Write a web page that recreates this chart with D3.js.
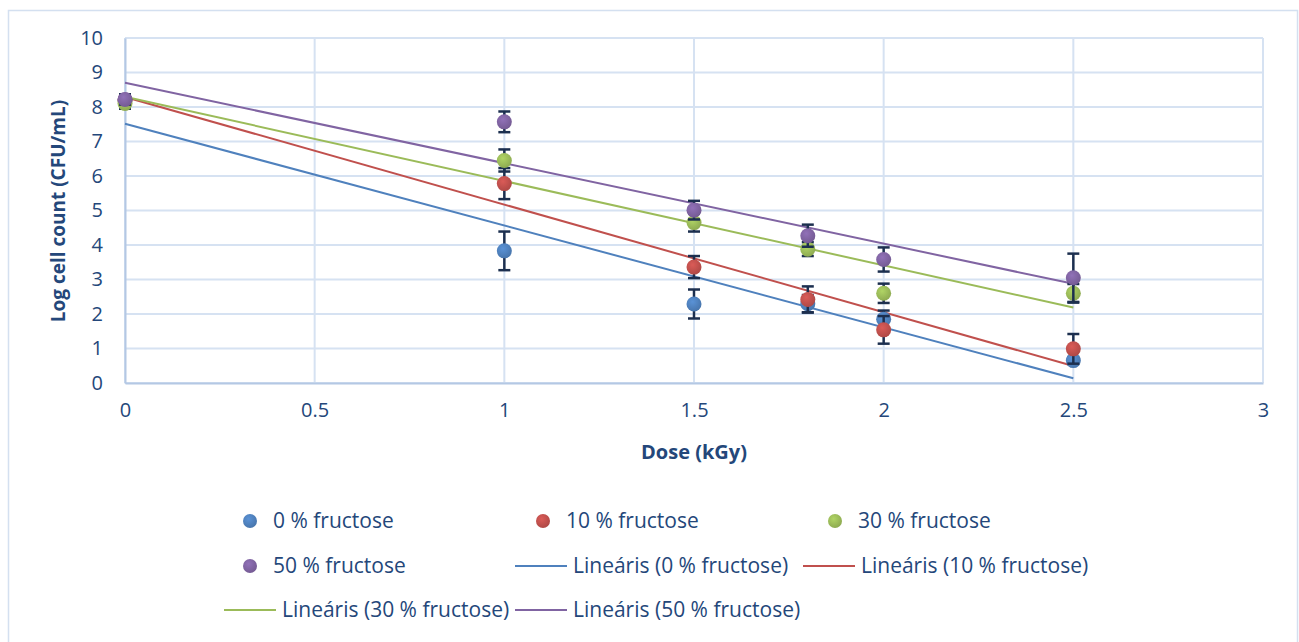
<!DOCTYPE html>
<html>
<head>
<meta charset="utf-8">
<title>Log cell count vs dose</title>
<script src="https://cdn.jsdelivr.net/npm/d3@7"></script>
<style>
  body { margin: 0; background: #fff; }
  svg { display: block; font-family: "Open Sans", sans-serif; }
</style>
</head>
<body>
<script>
// data
var doses = [0, 1, 1.5, 1.8, 2, 2.5];
var seriesNames = ["0 % fructose", "10 % fructose", "30 % fructose", "50 % fructose"];
var fru0 = [8.2, 3.83, 2.29, 2.30, 1.85, 0.65];
var fru10 = [8.2, 5.78, 3.36, 2.42, 1.54, 0.99];
var fru30 = [8.1, 6.45, 4.65, 3.88, 2.60, 2.60];
var fru50 = [8.22, 7.57, 5.01, 4.27, 3.58, 3.05];
var err0 = [0.15, 0.56, 0.42, 0.25, 0.25, 0.1];
var err10 = [0.15, 0.45, 0.32, 0.38, 0.4, 0.43];
var err30 = [0.15, 0.32, 0.26, 0.2, 0.28, 0.27];
var err50 = [0.15, 0.3, 0.27, 0.32, 0.35, 0.7];
var xTicks = [0, 0.5, 1, 1.5, 2, 2.5, 3];
var yTicks = [0, 1, 2, 3, 4, 5, 6, 7, 8, 9, 10];
var colors = ["#4f81bd", "#c0504d", "#9bbb59", "#8064a2"];

var values = [fru0, fru10, fru30, fru50];
var errors = [err0, err10, err30, err50];

var W = 1299, H = 642;
var textColor = "#24477a";
var gridColor = "#d6e2f2";

var svg = d3.select("body").append("svg")
    .attr("width", W)
    .attr("height", H);

// outer chart frame
svg.append("rect")
    .attr("x", 8.5).attr("y", 10.5)
    .attr("width", 1289).attr("height", 660)
    .attr("fill", "none")
    .attr("stroke", "#d4e0f0")
    .attr("stroke-width", 1.5);

var x = d3.scaleLinear().domain([0, 3]).range([125, 1263]);
var y = d3.scaleLinear().domain([0, 10]).range([383, 38]);

// gridlines
svg.append("g").selectAll("line.h")
    .data(yTicks).enter().append("line")
    .attr("x1", x(0)).attr("x2", x(3))
    .attr("y1", function(d) { return y(d); })
    .attr("y2", function(d) { return y(d); })
    .attr("stroke", gridColor).attr("stroke-width", 2);

svg.append("g").selectAll("line.v")
    .data(xTicks).enter().append("line")
    .attr("y1", y(0)).attr("y2", y(10))
    .attr("x1", function(d) { return x(d); })
    .attr("x2", function(d) { return x(d); })
    .attr("stroke", gridColor).attr("stroke-width", 2);

// axes (lines only, labels below)
var xAxis = svg.append("g")
    .attr("transform", "translate(0," + y(0) + ")")
    .call(d3.axisBottom(x).tickValues(xTicks).tickSize(0).tickPadding(20)
        .tickFormat(function(d) { return d; }));
var yAxis = svg.append("g")
    .attr("transform", "translate(" + x(0) + ",0)")
    .call(d3.axisLeft(y).tickValues(yTicks).tickSize(0).tickPadding(22));

[xAxis, yAxis].forEach(function(a) {
    a.select(".domain").attr("stroke", "#b4c8e4").attr("stroke-width", 2);
    a.selectAll("text")
        .attr("fill", textColor)
        .style("font-size", "20px")
        .style("font-family", "'Open Sans', sans-serif");
});

// axis titles
svg.append("text")
    .attr("x", 694).attr("y", 459)
    .attr("text-anchor", "middle")
    .attr("fill", textColor)
    .style("font-size", "20px").style("font-weight", "bold")
    .text("Dose (kGy)");

svg.append("text")
    .attr("transform", "translate(65,211) rotate(-90)")
    .attr("text-anchor", "middle")
    .attr("fill", textColor)
    .style("font-size", "19px").style("font-weight", "bold")
    .text("Log cell count (CFU/mL)");

// linear trend lines (least squares, like the spreadsheet)
function fit(ys) {
    var mx = d3.mean(doses), my = d3.mean(ys);
    var sxy = d3.sum(doses, function(d, i) { return (d - mx) * (ys[i] - my); });
    var sxx = d3.sum(doses, function(d) { return (d - mx) * (d - mx); });
    var b = sxy / sxx;
    return { a: my - b * mx, b: b };
}

var trendG = svg.append("g");
values.forEach(function(ys, k) {
    var f = fit(ys);
    var x0 = d3.min(doses), x1 = d3.max(doses);
    trendG.append("line")
        .attr("x1", x(x0)).attr("y1", y(f.a + f.b * x0))
        .attr("x2", x(x1)).attr("y2", y(f.a + f.b * x1))
        .attr("stroke", colors[k]).attr("stroke-width", 2);
});

// markers with error bars
var defs = svg.append("defs");
colors.forEach(function(c, k) {
    var g = defs.append("radialGradient").attr("id", "grad" + k)
        .attr("cx", "40%").attr("cy", "35%").attr("r", "65%");
    g.append("stop").attr("offset", "0%").attr("stop-color", d3.color(c).brighter(0.35));
    g.append("stop").attr("offset", "100%").attr("stop-color", d3.color(c).darker(0.25));
});

var errColor = "#1c2f4f";
values.forEach(function(ys, k) {
    var g = svg.append("g");
    var pts = doses.map(function(d, i) { return { x: d, y: ys[i], e: errors[k][i] }; });
    var eb = g.selectAll("g.eb").data(pts).enter().append("g");
    eb.append("line")
        .attr("x1", function(d) { return x(d.x); })
        .attr("x2", function(d) { return x(d.x); })
        .attr("y1", function(d) { return y(d.y - d.e); })
        .attr("y2", function(d) { return y(d.y + d.e); })
        .attr("stroke", errColor).attr("stroke-width", 2.5);
    [-1, 1].forEach(function(s) {
        eb.append("line")
            .attr("x1", function(d) { return x(d.x) - 6; })
            .attr("x2", function(d) { return x(d.x) + 6; })
            .attr("y1", function(d) { return y(d.y + s * d.e); })
            .attr("y2", function(d) { return y(d.y + s * d.e); })
            .attr("stroke", errColor).attr("stroke-width", 2.5);
    });
    g.selectAll("circle").data(pts).enter().append("circle")
        .attr("cx", function(d) { return x(d.x); })
        .attr("cy", function(d) { return y(d.y); })
        .attr("r", 7.5)
        .attr("fill", "url(#grad" + k + ")");
});

// legend
var legendItems = [
    { type: "dot", k: 0, label: seriesNames[0], x: 250, y: 521 },
    { type: "dot", k: 1, label: seriesNames[1], x: 543, y: 521 },
    { type: "dot", k: 2, label: seriesNames[2], x: 835, y: 521 },
    { type: "dot", k: 3, label: seriesNames[3], x: 250, y: 566 },
    { type: "line", k: 0, label: "Lineáris (" + seriesNames[0] + ")", x: 541, y: 566 },
    { type: "line", k: 1, label: "Lineáris (" + seriesNames[1] + ")", x: 829, y: 566 },
    { type: "line", k: 2, label: "Lineáris (" + seriesNames[2] + ")", x: 250, y: 610 },
    { type: "line", k: 3, label: "Lineáris (" + seriesNames[3] + ")", x: 541, y: 610 }
];

var leg = svg.append("g").selectAll("g").data(legendItems).enter().append("g")
    .attr("transform", function(d) { return "translate(" + d.x + "," + d.y + ")"; });

leg.filter(function(d) { return d.type === "dot"; }).append("circle")
    .attr("r", 7).attr("fill", function(d) { return "url(#grad" + d.k + ")"; });
leg.filter(function(d) { return d.type === "line"; }).append("line")
    .attr("x1", -26).attr("x2", 26)
    .attr("stroke", function(d) { return colors[d.k]; }).attr("stroke-width", 2);

leg.append("text")
    .attr("x", function(d) { return d.type === "dot" ? 23 : 32; })
    .attr("dy", "0.35em")
    .attr("fill", textColor)
    .style("font-size", "21px")
    .text(function(d) { return d.label; });
</script>
</body>
</html>
